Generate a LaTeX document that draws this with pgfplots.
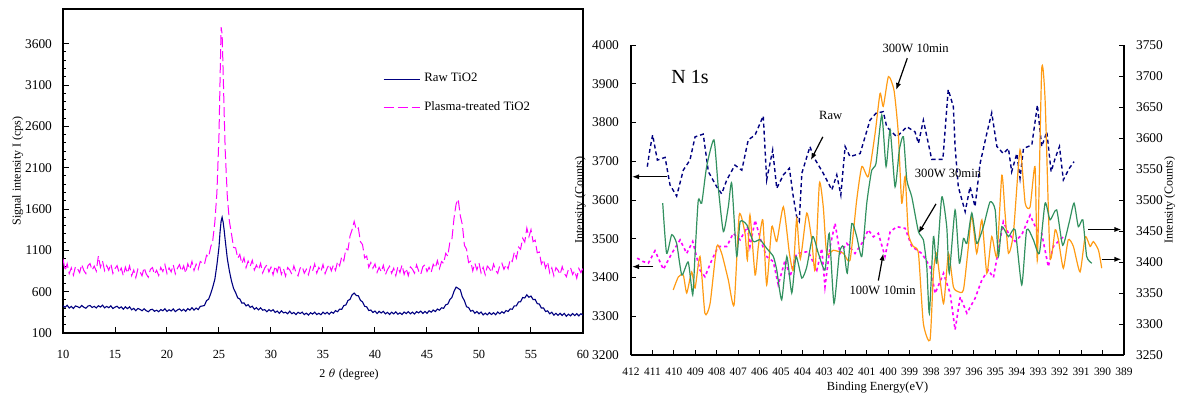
\documentclass[border=0pt]{standalone}
\usepackage{fontspec}
\setmainfont{Liberation Serif}
\usepackage{pgfplots}
\pgfplotsset{compat=1.18}
\usetikzlibrary{arrows.meta}
\definecolor{navyc}{RGB}{0,0,128}
\definecolor{magc}{RGB}{255,0,255}
\definecolor{orc}{RGB}{255,155,20}
\definecolor{grc}{RGB}{50,145,95}
\begin{document}
\begin{tikzpicture}
\pgfplotsset{every axis/.append style={/pgf/number format/assume math mode=true, /pgf/number format/1000 sep={}, scaled ticks=false, tick style={black, line width=0.5pt}, axis line style={black, line width=0.7pt}}}
% ---------------- XRD ----------------
\begin{axis}[at={(31.5pt,32pt)}, anchor=south west, scale only axis,
  width=260pt, height=162pt, xmin=10, xmax=60, ymin=100, ymax=4020,
  xtick={10,15,...,60}, ytick={100,600,...,3600}, minor y tick num=4,
  xtick pos=bottom, ytick pos=left, tick align=inside,
  major tick length=3pt, minor tick length=1.6pt,
  x tick label style={font=\fontsize{6.2}{7}\selectfont},
  y tick label style={font=\fontsize{6.7}{8}\selectfont},
  xticklabel shift=5pt, yticklabel shift=2pt,
  every axis x label/.style={at={(axis description cs:0.55,-0.127)}, anchor=center, font=\fontsize{6}{7}\selectfont},
  every axis y label/.style={at={(axis description cs:-0.087,0.5)}, anchor=center, rotate=90, font=\fontsize{6}{7}\selectfont},
  xlabel={2 $\theta$ (degree)}, ylabel={Signal intensity I (cps)},
  legend style={at={(axis description cs:0.615,0.815)}, anchor=north west, draw=none, fill=none, font=\fontsize{6.4}{7.5}\selectfont, row sep=4.5pt, inner sep=0pt},
  legend cell align=left,
  legend image code/.code={\draw[#1] (0pt,0pt) -- (18pt,0pt);}]
\addplot[navyc, line width=0.55pt] coordinates {
(10.0,430)(10.2,410)(10.4,436)(10.6,402)(10.8,422)(11.0,397)(11.2,427)(11.4,419)(11.6,405)(11.8,433)(12.0,412)(12.2,400)(12.4,426)(12.6,433)(12.8,409)(13.0,422)(13.2,403)(13.4,430)(13.6,414)(13.8,437)(14.0,404)(14.2,422)(14.4,406)(14.6,429)(14.8,396)(15.0,413)(15.2,424)(15.4,399)(15.6,416)(15.8,388)(16.0,417)(16.2,394)(16.4,417)(16.6,381)(16.8,398)(17.0,370)(17.2,397)(17.4,386)(17.6,369)(17.8,394)(18.0,370)(18.2,357)(18.4,382)(18.6,387)(18.8,363)(19.0,376)(19.2,357)(19.4,384)(19.6,369)(19.8,393)(20.0,361)(20.2,381)(20.4,366)(20.6,391)(20.8,359)(21.0,378)(21.2,391)(21.4,368)(21.6,387)(21.8,362)(22.0,395)(22.2,377)(22.4,406)(22.6,377)(22.8,402)(23.0,383)(23.2,422)(23.4,427)(23.6,433)(23.8,491)(24.0,509)(24.2,575)(24.4,655)(24.6,750)(24.8,925)(25.0,1140)(25.1,1320)(25.2,1450)(25.3,1500)(25.4,1440)(25.5,1340)(25.6,1220)(25.8,1000)(26.0,850)(26.2,730)(26.4,640)(26.6,588)(26.8,525)(27.0,512)(27.2,461)(27.4,465)(27.6,428)(27.8,443)(28.0,410)(28.2,424)(28.4,387)(28.6,406)(28.8,379)(29.0,404)(29.2,376)(29.4,383)(29.6,357)(29.8,383)(30.0,364)(30.2,382)(30.4,349)(30.6,366)(30.8,338)(31.0,368)(31.2,343)(31.4,352)(31.6,333)(31.8,364)(32.0,333)(32.2,349)(32.4,323)(32.6,351)(32.8,335)(33.0,352)(33.2,323)(33.4,340)(33.6,317)(33.8,345)(34.0,329)(34.2,352)(34.4,323)(34.6,339)(34.8,321)(35.0,352)(35.2,331)(35.4,351)(35.6,327)(35.8,354)(36.0,339)(36.2,371)(36.4,357)(36.6,389)(36.8,386)(37.0,432)(37.2,439)(37.4,493)(37.6,507)(37.8,562)(38.0,583)(38.2,554)(38.4,550)(38.6,495)(38.8,477)(39.0,424)(39.2,417)(39.4,372)(39.6,378)(39.8,348)(40.0,366)(40.2,336)(40.4,362)(40.6,342)(40.8,362)(41.0,332)(41.2,349)(41.4,324)(41.6,352)(41.8,332)(42.0,356)(42.2,327)(42.4,344)(42.6,324)(42.8,354)(43.0,335)(43.2,359)(43.4,332)(43.6,352)(43.8,330)(44.0,359)(44.2,343)(44.4,365)(44.6,337)(44.8,361)(45.0,338)(45.2,369)(45.4,352)(45.6,378)(45.8,359)(46.0,390)(46.2,376)(46.4,405)(46.6,399)(46.8,441)(47.0,449)(47.2,504)(47.4,532)(47.6,605)(47.8,655)(48.0,640)(48.2,622)(48.4,536)(48.6,491)(48.8,418)(49.0,408)(49.2,364)(49.4,374)(49.6,339)(49.8,360)(50.0,332)(50.2,354)(50.4,319)(50.6,340)(50.8,320)(51.0,347)(51.2,324)(51.4,345)(51.6,321)(51.8,354)(52.0,333)(52.2,358)(52.4,340)(52.6,372)(52.8,360)(53.0,392)(53.2,387)(53.4,429)(53.6,429)(53.8,477)(54.0,478)(54.2,529)(54.4,524)(54.6,562)(54.8,532)(55.0,547)(55.2,505)(55.4,505)(55.6,456)(55.8,450)(56.0,401)(56.2,404)(56.4,360)(56.6,368)(56.8,332)(57.0,351)(57.2,316)(57.4,338)(57.6,313)(57.8,338)(58.0,312)(58.2,337)(58.4,302)(58.6,328)(58.8,308)(59.0,335)(59.2,311)(59.4,334)(59.6,307)(59.8,333)(60.0,316)};
\addlegendentry{Raw TiO2}
\addplot[magc, line width=0.5pt, dash pattern=on 5pt off 2pt] coordinates {
(10.0,1000)(10.2,852)(10.4,938)(10.6,818)(10.8,888)(11.0,800)(11.2,905)(11.4,877)(11.6,830)(11.8,931)(12.0,857)(12.2,819)(12.4,914)(12.6,939)(12.8,860)(13.0,910)(13.2,849)(13.4,1030)(13.6,896)(13.8,971)(14.0,855)(14.2,916)(14.4,859)(14.6,937)(14.8,820)(15.0,879)(15.2,915)(15.4,828)(15.6,886)(15.8,792)(16.0,897)(16.2,824)(16.4,912)(16.6,794)(16.8,861)(17.0,770)(17.2,873)(17.4,843)(17.6,793)(17.8,891)(18.0,815)(18.2,775)(18.4,868)(18.6,892)(18.8,811)(19.0,859)(19.2,796)(19.4,893)(19.6,844)(19.8,927)(20.0,819)(20.2,888)(20.4,839)(20.6,925)(20.8,816)(21.0,883)(21.2,927)(21.4,847)(21.6,912)(21.8,825)(22.0,937)(22.2,871)(22.4,966)(22.6,856)(22.8,932)(23.0,871)(23.2,965)(23.4,949)(23.6,930)(23.8,1040)(24.0,1020)(24.2,1140)(24.4,1220)(24.6,1440)(24.8,1800)(25.0,2500)(25.1,3150)(25.2,3800)(25.3,3720)(25.4,3250)(25.5,2750)(25.6,2300)(25.8,1750)(26.0,1450)(26.2,1300)(26.4,1135)(26.6,1130)(26.8,1005)(27.0,1050)(27.2,940)(27.4,1010)(27.6,890)(27.8,970)(28.0,908)(28.2,980)(28.4,862)(28.6,922)(28.8,865)(29.0,943)(29.2,827)(29.4,887)(29.6,924)(29.8,838)(30.0,897)(30.2,804)(30.4,910)(30.6,838)(30.8,927)(31.0,810)(31.2,878)(31.4,788)(31.6,892)(31.8,863)(32.0,813)(32.2,911)(32.4,834)(32.6,792)(32.8,884)(33.0,906)(33.2,823)(33.4,870)(33.6,806)(33.8,902)(34.0,852)(34.2,934)(34.4,825)(34.6,893)(34.8,843)(35.0,928)(35.2,818)(35.4,885)(35.6,930)(35.8,852)(36.0,921)(36.2,857)(36.4,963)(36.6,914)(36.8,1022)(37.0,972)(37.2,1120)(37.4,1105)(37.6,1275)(37.8,1350)(38.0,1450)(38.2,1350)(38.4,1370)(38.6,1205)(38.8,1170)(39.0,1010)(39.2,1030)(39.4,895)(39.6,953)(39.8,883)(40.0,936)(40.2,834)(40.4,895)(40.6,839)(40.8,919)(41.0,805)(41.2,867)(41.4,907)(41.6,823)(41.8,884)(42.0,794)(42.2,902)(42.4,832)(42.6,923)(42.8,809)(43.0,880)(43.2,793)(43.4,899)(43.6,872)(43.8,824)(44.0,924)(44.2,849)(44.4,809)(44.6,902)(44.8,926)(45.0,845)(45.2,894)(45.4,832)(45.6,931)(45.8,886)(46.0,976)(46.2,879)(46.4,965)(46.6,941)(46.8,1064)(47.0,1030)(47.2,1200)(47.4,1240)(47.6,1490)(47.8,1660)(48.0,1720)(48.2,1520)(48.4,1410)(48.6,1160)(48.8,1115)(49.0,952)(49.2,969)(49.4,852)(49.6,944)(49.8,864)(50.0,948)(50.2,828)(50.4,895)(50.6,805)(50.8,909)(51.0,881)(51.2,833)(51.4,933)(51.6,859)(51.8,821)(52.0,917)(52.2,945)(52.4,870)(52.6,927)(52.8,877)(53.0,992)(53.2,966)(53.4,1078)(53.6,1005)(53.8,1140)(54.0,1114)(54.2,1247)(54.4,1200)(54.6,1370)(54.8,1265)(55.0,1350)(55.2,1205)(55.4,1223)(55.6,1070)(55.8,1080)(56.0,935)(56.2,987)(56.4,887)(56.6,958)(56.8,828)(57.0,888)(57.2,792)(57.4,891)(57.6,859)(57.8,807)(58.0,903)(58.2,824)(58.4,781)(58.6,871)(58.8,892)(59.0,808)(59.2,853)(59.4,763)(59.6,881)(59.8,830)(60.0,885)};
\addlegendentry{Plasma-treated TiO2}
\end{axis}
% ---------------- XPS left axis ----------------
\begin{axis}[at={(315.5pt,21pt)}, anchor=south west, scale only axis,
  width=246.5pt, height=155pt, xmin=389, xmax=412, x dir=reverse,
  ymin=3200, ymax=4000, axis x line=bottom, axis y line=left,
  axis line style={-}, clip=false,
  xtick={389,390,...,412}, ytick={3200,3300,...,4000}, tick align=inside,
  major tick length=2.5pt,
  x tick label style={font=\fontsize{5.7}{7}\selectfont},
  y tick label style={font=\fontsize{6.7}{8}\selectfont},
  xticklabel shift=3pt, yticklabel shift=2.5pt,
  every axis x label/.style={at={(axis description cs:0.5,-0.106)}, anchor=center, font=\fontsize{6.2}{7}\selectfont},
  every axis y label/.style={at={(axis description cs:-0.103,0.5)}, anchor=center, rotate=90, font=\fontsize{6}{7}\selectfont},
  xlabel={Binding Energy(eV)}, ylabel={Intensity (Counts)}]
\addplot[navyc, line width=0.7pt, dash pattern=on 2pt off 1.5pt] coordinates {
(411.24,3686)(411.11,3733)(410.99,3768)(410.77,3703)(410.41,3710)(410.18,3639)(409.87,3610)(409.56,3677)(409.25,3703)(409.01,3763)(408.63,3770)(408.39,3673)(408.00,3634)(407.77,3616)(407.53,3652)(407.15,3690)(406.83,3677)(406.53,3755)(406.21,3768)(405.83,3817)(405.67,3652)(405.39,3729)(405.20,3630)(404.89,3665)(404.61,3682)(404.43,3609)(404.27,3557)(404.15,3545)(404.03,3669)(403.65,3738)(403.49,3712)(403.03,3669)(402.63,3626)(402.40,3665)(402.21,3613)(402.01,3738)(401.78,3712)(401.31,3720)(400.85,3806)(400.57,3824)(400.23,3828)(400.07,3789)(399.60,3763)(399.13,3789)(398.75,3776)(398.59,3746)(398.36,3806)(397.97,3705)(397.45,3705)(397.20,3885)(396.96,3841)(396.88,3738)(396.73,3634)(396.41,3570)(396.18,3634)(395.95,3583)(395.71,3695)(395.40,3772)(395.17,3825)(394.93,3738)(394.63,3720)(394.39,3733)(394.24,3673)(394.00,3720)(393.85,3656)(393.69,3733)(393.30,3742)(393.04,3845)(392.84,3738)(392.60,3776)(392.40,3673)(392.21,3708)(392.01,3738)(391.83,3652)(391.55,3682)(391.33,3699)};
\addplot[magc, line width=0.8pt, dash pattern=on 1.5pt off 1.5pt] coordinates {
(411.71,3450)(411.43,3441)(411.19,3437)(410.88,3469)(410.49,3421)(410.10,3462)(409.71,3497)(409.40,3462)(409.12,3493)(408.78,3419)(408.55,3402)(408.23,3445)(407.93,3480)(407.53,3480)(407.23,3514)(406.91,3497)(406.57,3531)(406.45,3480)(406.21,3548)(405.90,3488)(405.67,3454)(405.36,3441)(405.13,3381)(404.81,3445)(404.58,3402)(404.27,3462)(403.73,3467)(403.33,3419)(403.10,3475)(402.95,3376)(402.71,3480)(402.48,3540)(402.25,3462)(401.93,3488)(401.55,3462)(401.23,3488)(400.93,3523)(400.69,3505)(400.46,3514)(400.15,3454)(399.91,3518)(399.60,3531)(399.21,3527)(398.90,3480)(398.43,3462)(398.05,3428)(397.81,3359)(397.42,3411)(397.11,3359)(396.88,3265)(396.64,3350)(396.33,3308)(395.95,3346)(395.63,3394)(395.33,3419)(395.09,3400)(394.86,3471)(394.63,3544)(394.39,3514)(394.08,3493)(393.77,3510)(393.38,3561)(393.07,3523)(392.84,3514)(392.53,3428)(392.30,3480)(392.06,3493)(391.83,3505)};
\node[font=\fontsize{10}{12}\selectfont] at (axis cs:409.25,3918) {N 1s};
\begin{scope}[font=\fontsize{6.3}{7.5}\selectfont]
\node at (axis cs:402.68,3817) {Raw};
\node at (axis cs:398.72,3990) {300W 10min};
\node at (axis cs:397.21,3669) {300W 30min};
\node at (axis cs:400.26,3366) {100W 10min};
\end{scope}
\begin{scope}[line width=0.6pt, -{Latex[length=3.5pt,width=2.6pt]}]
\draw (axis cs:403.05,3763) -- (axis cs:403.61,3703);
\draw (axis cs:399.11,3966) -- (axis cs:399.63,3884);
\draw (axis cs:397.77,3590) -- (axis cs:398.59,3514);
\draw (axis cs:400.46,3392) -- (axis cs:400.23,3462);
\draw (axis cs:410.33,3660) -- (axis cs:411.95,3660);
\draw (axis cs:410.96,3428) -- (axis cs:411.95,3428);
\draw (axis cs:390.66,3524) -- (axis cs:389.12,3524);
\draw (axis cs:390.04,3447) -- (axis cs:389.12,3447);
\end{scope}
\end{axis}
% ---------------- XPS right axis ----------------
\begin{axis}[at={(315.5pt,21pt)}, anchor=south west, scale only axis,
  width=246.5pt, height=155pt, xmin=389, xmax=412, x dir=reverse,
  ymin=3250, ymax=3750, axis x line=none, axis y line=right,
  axis line style={-}, ytick={3250,3300,...,3750}, tick align=inside,
  major tick length=2.5pt,
  y tick label style={font=\fontsize{6.7}{8}\selectfont},
  yticklabel shift=2.5pt,
  every axis y label/.style={at={(axis description cs:1.093,0.5)}, anchor=center, rotate=90, font=\fontsize{6}{7}\selectfont},
  ylabel={Intensity (Counts)}]
\addplot[orc, line width=0.6pt, smooth, tension=0.35] coordinates {
(410.03,3355)(409.79,3376)(409.56,3379)(409.40,3350)(409.17,3384)(409.01,3358)(408.78,3409)(408.55,3317)(408.31,3333)(408.00,3425)(407.77,3414)(407.46,3371)(407.19,3331)(406.95,3476)(406.68,3446)(406.57,3403)(406.45,3476)(406.21,3379)(406.06,3425)(405.85,3468)(405.67,3363)(405.43,3457)(405.20,3433)(404.89,3489)(404.61,3414)(404.43,3387)(404.27,3470)(404.10,3405)(403.80,3479)(403.57,3436)(403.41,3387)(403.21,3527)(403.03,3489)(402.87,3414)(402.56,3419)(402.09,3414)(401.78,3403)(401.47,3500)(401.23,3554)(400.93,3538)(400.61,3608)(400.38,3672)(400.23,3651)(399.99,3699)(399.73,3677)(399.53,3608)(399.37,3495)(399.21,3538)(399.06,3446)(398.83,3425)(398.59,3414)(398.36,3301)(398.05,3274)(397.89,3382)(397.74,3414)(397.42,3333)(397.19,3414)(396.96,3360)(396.73,3352)(396.49,3355)(396.26,3425)(396.10,3476)(395.87,3414)(395.63,3468)(395.40,3382)(395.17,3441)(394.93,3409)(394.70,3540)(394.55,3479)(394.39,3414)(394.16,3446)(393.85,3581)(393.61,3495)(393.38,3489)(393.15,3554)(393.04,3403)(392.84,3710)(392.68,3661)(392.45,3409)(392.21,3452)(392.06,3436)(391.83,3390)(391.60,3436)(391.36,3425)(391.05,3384)(390.81,3441)(390.58,3425)(390.43,3433)(390.19,3419)(390.04,3390)};
\addplot[grc, line width=0.6pt, smooth, tension=0.35] coordinates {
(410.52,3495)(410.34,3414)(410.10,3444)(409.87,3430)(409.63,3379)(409.33,3400)(409.12,3347)(409.01,3414)(408.86,3500)(408.70,3495)(408.47,3554)(408.13,3597)(407.93,3521)(407.69,3449)(407.46,3489)(407.30,3527)(407.07,3409)(406.91,3465)(406.60,3460)(406.29,3433)(405.98,3436)(405.67,3422)(405.36,3409)(405.20,3387)(404.97,3339)(404.73,3409)(404.50,3350)(404.30,3409)(404.03,3374)(403.80,3392)(403.52,3441)(403.26,3414)(402.95,3387)(402.75,3446)(402.53,3333)(402.28,3414)(402.09,3425)(401.91,3382)(401.70,3462)(401.47,3441)(401.23,3409)(401.00,3495)(400.77,3548)(400.57,3559)(400.30,3637)(400.10,3554)(399.91,3613)(399.68,3521)(399.48,3581)(399.29,3602)(399.13,3532)(398.90,3505)(398.59,3449)(398.36,3436)(398.20,3392)(398.08,3317)(397.89,3441)(397.74,3398)(397.50,3505)(397.27,3457)(397.15,3382)(396.88,3484)(396.68,3398)(396.49,3438)(396.33,3430)(396.10,3479)(395.87,3430)(395.56,3457)(395.25,3497)(395.01,3484)(394.86,3409)(394.70,3457)(394.39,3441)(394.08,3452)(393.77,3363)(393.54,3452)(393.23,3436)(392.95,3414)(392.68,3495)(392.45,3468)(392.14,3484)(391.86,3427)(391.55,3465)(391.33,3495)(391.13,3457)(390.92,3468)(390.74,3409)(390.50,3398)};
\end{axis}
\pgfresetboundingbox
\path[use as bounding box] (0,0) rectangle (592.5pt,198.5pt);
\end{tikzpicture}
\end{document}
